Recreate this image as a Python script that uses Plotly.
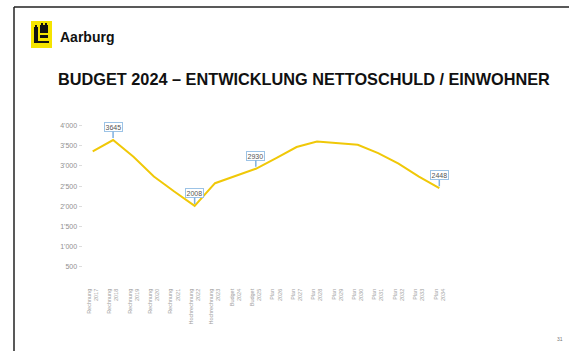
import plotly.graph_objects as go

categories = ["Rechnung 2017", "Rechnung 2018", "Rechnung 2019", "Rechnung 2020", "Rechnung 2021",
              "Hochrechnung 2022", "Hochrechnung 2023", "Budget 2024", "Budget 2025",
              "Plan 2026", "Plan 2027", "Plan 2028", "Plan 2029", "Plan 2030",
              "Plan 2031", "Plan 2032", "Plan 2033", "Plan 2034"]
values = [3360, 3645, 3230, 2740, 2365, 2008, 2572, 2755, 2930, 3195,
          3470, 3605, 3565, 3525, 3320, 3060, 2735, 2448]
labelled = [1, 5, 8, 17]
tick_vals = [500, 1000, 1500, 2000, 2500, 3000, 3500, 4000]
tick_text = ["500", "1'000", "1'500", "2'000", "2'500", "3'000", "3'500", "4'000"]

W, H = 569, 351
def px(x): return x / W
def py(y): return 1 - y / H

fig = go.Figure()
fig.add_trace(go.Scatter(
    x=list(range(len(categories))), y=values, mode="lines",
    line=dict(color="#F0C808", width=2), hoverinfo="skip", showlegend=False))

ticklbl = [c.replace(" ", "<br>") for c in categories]

fig.update_layout(
    width=W, height=H, margin=dict(l=0, r=0, t=0, b=0),
    paper_bgcolor="white", plot_bgcolor="white",
    font=dict(family="Liberation Sans, Arial, sans-serif"),
    xaxis=dict(domain=[px(82.5), px(449.5)], range=[-0.5, 17.5],
               tickmode="array", tickvals=list(range(len(categories))), ticktext=ticklbl,
               tickangle=-90, tickfont=dict(size=5.5, color="#a0a0a0"),
               showgrid=False, zeroline=False, showline=False, ticks=""),
    yaxis=dict(domain=[py(286.7), py(105.6)], range=[0, 4500],
               tickmode="array", tickvals=tick_vals, ticktext=tick_text,
               tickfont=dict(size=7, color="#909090"),
               ticks="outside", ticklen=3, tickcolor="#dddddd",
               showgrid=False, zeroline=False, showline=False),
)

for i in labelled:
    fig.add_annotation(x=i, y=values[i], xref="x", yref="y",
                       text=f"{values[i]}", showarrow=True, ax=0, ay=-13,
                       arrowcolor="#7fb0e0", arrowwidth=1.5, arrowhead=0, standoff=2,
                       font=dict(size=7, color="#555555"),
                       bordercolor="#9cc3e6", borderwidth=1, borderpad=0.5, bgcolor="white")

# slide frame
fig.add_shape(type="line", xref="paper", yref="paper", x0=px(14), x1=1.0, y0=py(7), y1=py(7),
              line=dict(color="#222222", width=1.5))
fig.add_shape(type="line", xref="paper", yref="paper", x0=px(14), x1=px(14), y0=py(7), y1=0,
              line=dict(color="#222222", width=1.5))

# logo
fig.add_shape(type="rect", xref="paper", yref="paper", x0=px(31), x1=px(52), y0=py(48), y1=py(21),
              fillcolor="#F5E400", line=dict(width=0))
for (x0, y0, x1, y1) in [(34, 27, 38, 41), (40, 25, 48, 33), (40, 35, 48, 38), (34, 41, 49, 43),
                         (41, 23, 43, 25), (45, 23, 47, 25), (35, 25, 37, 27)]:
    fig.add_shape(type="rect", xref="paper", yref="paper", x0=px(x0), x1=px(x1), y0=py(y1), y1=py(y0),
                  fillcolor="#111111", line=dict(width=0))

fig.add_annotation(x=px(58), y=py(37), xref="paper", yref="paper", xanchor="left", yanchor="middle",
                   text="<b>Aarburg</b>", showarrow=False, font=dict(size=14, color="#111111"))
fig.add_annotation(x=px(56), y=py(79), xref="paper", yref="paper", xanchor="left", yanchor="middle",
                   text="<b>BUDGET 2024 – ENTWICKLUNG NETTOSCHULD / EINWOHNER</b>", showarrow=False,
                   font=dict(size=16.3, color="#111111"))
fig.add_annotation(x=px(565), y=py(339), xref="paper", yref="paper", xanchor="right", yanchor="middle",
                   text="31", showarrow=False, font=dict(size=5, color="#777777"))

fig.write_html("out.html")
